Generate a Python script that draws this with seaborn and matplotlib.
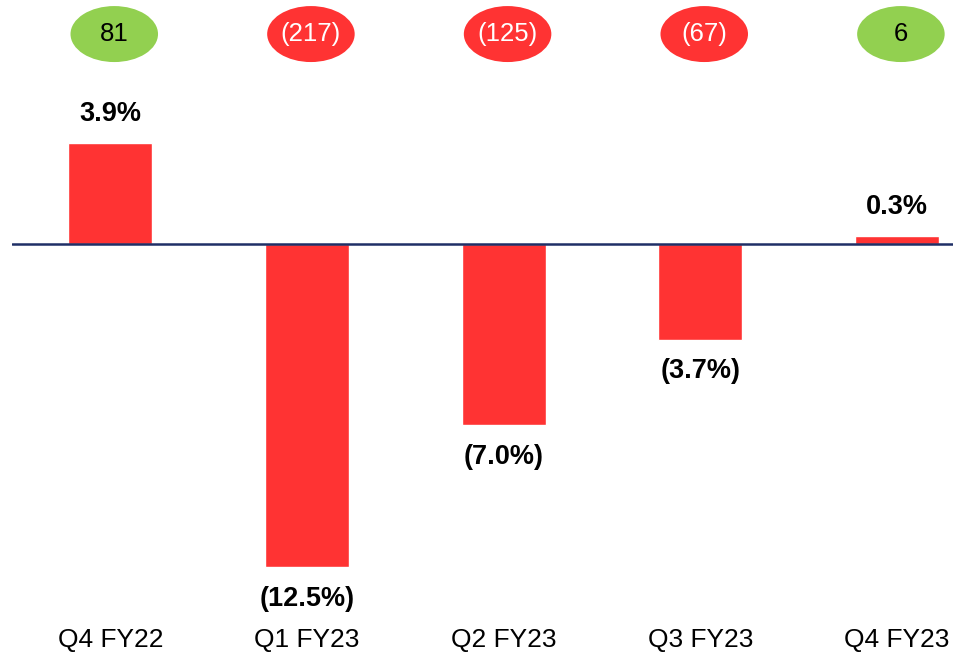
import matplotlib
matplotlib.use("Agg")
import matplotlib.pyplot as plt
from matplotlib.patches import Ellipse
import seaborn as sns
import pandas as pd

categories = ["Q4 FY22", "Q1 FY23", "Q2 FY23", "Q3 FY23", "Q4 FY23"]
margin_pct = [3.9, -12.5, -7.0, -3.7, 0.3]
ebitda_values = [81, -217, -125, -67, 6]

sns.set_theme(style="white")
plt.rcParams['font.family'] = ['Liberation Sans', 'DejaVu Sans']

BAR_RED = "#FF3333"
GREEN = "#92D050"
NAVY = "#1F2F66"

df = pd.DataFrame({"quarter": categories, "pct": margin_pct})

fig = plt.figure(figsize=(9.54, 6.56), dpi=100)
ax = fig.add_axes([12 / 954, 36 / 656, 942 / 954, 620 / 656])

sns.barplot(data=df, x="quarter", y="pct", color=BAR_RED, saturation=1,
            width=0.426, ax=ax, order=categories)

ax.set_xlim(-0.5, 4.29)
ax.set_ylim(-14.57, 9.46)
ax.axhline(0, color=NAVY, lw=1.8, zorder=5)

for s in ax.spines.values():
    s.set_visible(False)
ax.set_yticks([])
ax.set_xlabel("")
ax.set_ylabel("")
ax.tick_params(axis="x", length=0, pad=6, labelsize=19, labelcolor="black")

def fmt_pct(v):
    return f"{v:.1f}%" if v >= 0 else f"({abs(v):.1f}%)"

for i, v in enumerate(margin_pct):
    off = 21 if v >= 0 else -23
    ax.annotate(fmt_pct(v), (i, v), xytext=(0, off), textcoords="offset points",
                ha="center", va="center", fontsize=19.5, fontweight="bold",
                color="black")

for i, v in enumerate(ebitda_values):
    col = GREEN if v >= 0 else BAR_RED
    tcol = "black" if v >= 0 else "white"
    e = Ellipse((i + 0.02, 8.14), width=0.445, height=2.17, facecolor=col,
                edgecolor="none", zorder=3, clip_on=False)
    ax.add_patch(e)
    label = f"{v}" if v >= 0 else f"({abs(v)})"
    ax.text(i + 0.02, 8.14, label, ha="center", va="center", fontsize=18.5,
            color=tcol, zorder=4)

fig.savefig("out.png", dpi=100)
